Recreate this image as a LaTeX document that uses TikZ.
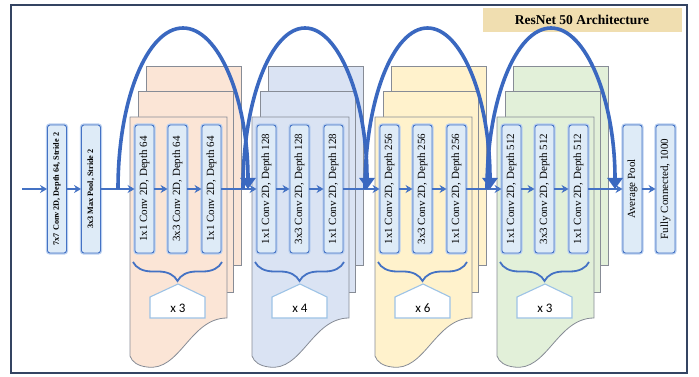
\documentclass[tikz,border=0pt]{standalone}
\usepackage{fontspec}
\setmainfont{Liberation Serif}
\newfontfamily\carlito{Carlito}
\usepackage{tikz}
\usetikzlibrary{arrows.meta,decorations.pathreplacing}
\definecolor{linkblue}{RGB}{68,114,196}
\definecolor{arcblue}{RGB}{58,104,192}
\definecolor{boxfill}{RGB}{222,235,247}
\definecolor{glow}{RGB}{186,208,240}
\definecolor{peach}{RGB}{251,229,214}
\definecolor{lilac}{RGB}{218,227,243}
\definecolor{cream}{RGB}{255,242,204}
\definecolor{mint}{RGB}{226,240,217}
\definecolor{edgegray}{RGB}{135,140,150}
\definecolor{frameblue}{RGB}{52,68,98}
\definecolor{titletan}{RGB}{240,222,176}
\definecolor{houseblue}{RGB}{157,195,230}
\newcommand{\flowy}{189}
\newcommand{\boxlen}{128pt}

\tikzset{
  convbox/.style={draw=linkblue, fill=boxfill, rounded corners=2.5pt, line width=0.9pt,
    rotate=90, minimum width=\boxlen, minimum height=19pt, inner sep=0pt,
    font=\fontsize{11}{12}\selectfont, preaction={draw=glow, line width=3.4pt}},
  headbox/.style={convbox, font=\bfseries\fontsize{8.2}{9}\selectfont},
  flow/.style={draw=linkblue, line width=1.6pt, -{Stealth[length=7pt,width=8pt]}},
  skip/.style={draw=arcblue, line width=3.6pt, -{Triangle[length=11pt,width=15pt]}},
  sheet/.style={draw=edgegray, line width=0.8pt},
  repbrace/.style={draw=linkblue, line width=1.8pt, decorate, decoration={brace, mirror, amplitude=19pt}},
  house/.style={draw=houseblue, fill=white, line width=1.1pt},
  reptext/.style={font=\carlito\fontsize{13}{14}\selectfont}
}

\begin{document}
\begin{tikzpicture}[x=1pt,y=-1pt]
\useasboundingbox (0,0) rectangle (699,377);
\draw[frameblue, line width=1.3pt] (11,5) rectangle (687,373);
\node[fill=titletan, minimum width=199pt, minimum height=24pt, inner sep=0pt, font=\bfseries\fontsize{13.5}{14}\selectfont] (title) at (582,20) {ResNet 50 Architecture};
%block 64
\draw[sheet, fill=peach] (146,66) rectangle (241,265);
\draw[sheet, fill=peach] (138,91) rectangle (233,292);
\draw[sheet, fill=peach] (130,117) -- (227,117) -- (227,318) .. controls (190,318) and (180,372) .. (147,367) .. controls (138,366) and (132,362) .. (130,356) -- cycle;
%block 128
\draw[sheet, fill=lilac] (268,66) rectangle (363,265);
\draw[sheet, fill=lilac] (260,91) rectangle (355,292);
\draw[sheet, fill=lilac] (252,117) -- (349,117) -- (349,318) .. controls (312,318) and (302,372) .. (269,367) .. controls (260,366) and (254,362) .. (252,356) -- cycle;
%block 256
\draw[sheet, fill=cream] (391,66) rectangle (486,265);
\draw[sheet, fill=cream] (383,91) rectangle (478,292);
\draw[sheet, fill=cream] (375,117) -- (472,117) -- (472,318) .. controls (435,318) and (425,372) .. (392,367) .. controls (383,366) and (377,362) .. (375,356) -- cycle;
%block 512
\draw[sheet, fill=mint] (513,66) rectangle (608,265);
\draw[sheet, fill=mint] (505,91) rectangle (600,292);
\draw[sheet, fill=mint] (497,117) -- (594,117) -- (594,318) .. controls (557,318) and (547,372) .. (514,367) .. controls (505,366) and (499,362) .. (497,356) -- cycle;
%boxes
\node[headbox] (conv7) at (57,\flowy) {7x7 Conv 2D, Depth 64, Stride 2};
\node[headbox] (pool) at (91,\flowy) {3x3 Max Pool, Stride 2};
\node[convbox] (c1a) at (144.5,\flowy) {1x1 Conv 2D, Depth 64};
\node[convbox] (c1b) at (177.5,\flowy) {3x3 Conv 2D, Depth 64};
\node[convbox] (c1c) at (211.5,\flowy) {1x1 Conv 2D, Depth 64};
\node[convbox] (c2a) at (266.5,\flowy) {1x1 Conv 2D, Depth 128};
\node[convbox] (c2b) at (299.5,\flowy) {3x3 Conv 2D, Depth 128};
\node[convbox] (c2c) at (333.5,\flowy) {1x1 Conv 2D, Depth 128};
\node[convbox] (c3a) at (389.5,\flowy) {1x1 Conv 2D, Depth 256};
\node[convbox] (c3b) at (422.5,\flowy) {3x3 Conv 2D, Depth 256};
\node[convbox] (c3c) at (456.5,\flowy) {1x1 Conv 2D, Depth 256};
\node[convbox] (c4a) at (511.5,\flowy) {1x1 Conv 2D, Depth 512};
\node[convbox] (c4b) at (544.5,\flowy) {3x3 Conv 2D, Depth 512};
\node[convbox] (c4c) at (578.5,\flowy) {1x1 Conv 2D, Depth 512};
\node[convbox] (avg) at (632.5,\flowy) {Average Pool};
\node[convbox] (fc) at (665.5,\flowy) {Fully Connected, 1000};
%repeats
\draw[repbrace] (133,262) -- (222,262);
\draw[house] (150,297) -- (178,284) -- (205,297) -- (205,318) -- (150,318) -- cycle;
\node[reptext] (rep1) at (178,308) {x 3};
\draw[repbrace] (255,262) -- (344,262);
\draw[house] (272,297) -- (300,284) -- (327,297) -- (327,318) -- (272,318) -- cycle;
\node[reptext] (rep2) at (300,308) {x 4};
\draw[repbrace] (378,262) -- (467,262);
\draw[house] (395,297) -- (423,284) -- (450,297) -- (450,318) -- (395,318) -- cycle;
\node[reptext] (rep3) at (423,308) {x 6};
\draw[repbrace] (500,262) -- (589,262);
\draw[house] (517,297) -- (545,284) -- (572,297) -- (572,318) -- (517,318) -- cycle;
\node[reptext] (rep4) at (545,308) {x 3};
%flow
\coordinate (input) at (22,\flowy);
\draw[flow] (input) -- (conv7);
\draw[flow] (conv7) -- (pool);
\draw[flow] (pool) -- (c1a);
\draw[flow] (c1a) -- (c1b);
\draw[flow] (c1b) -- (c1c);
\draw[flow] (c1c) -- (c2a);
\draw[flow] (c2a) -- (c2b);
\draw[flow] (c2b) -- (c2c);
\draw[flow] (c2c) -- (c3a);
\draw[flow] (c3a) -- (c3b);
\draw[flow] (c3b) -- (c3c);
\draw[flow] (c3c) -- (c4a);
\draw[flow] (c4a) -- (c4b);
\draw[flow] (c4b) -- (c4c);
\draw[flow] (c4c) -- (avg);
\draw[flow] (avg) -- (fc);
%skips
\coordinate (s1) at (118,\flowy);
\coordinate (e1) at (248,\flowy);
\coordinate (s2) at (243,\flowy);
\coordinate (e2) at (367,\flowy);
\coordinate (s3) at (365,\flowy);
\coordinate (e3) at (490,\flowy);
\coordinate (s4) at (487,\flowy);
\coordinate (e4) at (615,\flowy);
\draw[skip] (s1) .. controls (118,100) and (147,28) .. (183,28) .. controls (219,28) and (248,100) .. (e1);
\draw[skip] (s2) .. controls (243,100) and (271,28) .. (305,28) .. controls (339,28) and (367,100) .. (e2);
\draw[skip] (s3) .. controls (365,100) and (393,28) .. (427.5,28) .. controls (462,28) and (490,100) .. (e3);
\draw[skip] (s4) .. controls (487,100) and (516,28) .. (551,28) .. controls (586,28) and (615,100) .. (e4);
\end{tikzpicture}
\end{document}
